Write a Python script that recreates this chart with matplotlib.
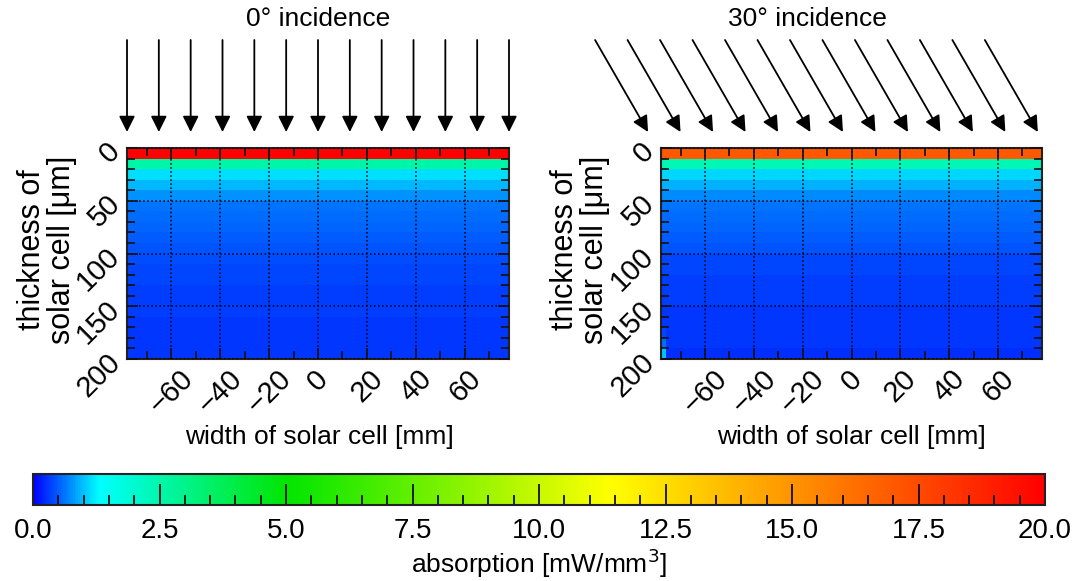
import numpy as np
import matplotlib
matplotlib.use("Agg")
import matplotlib.pyplot as plt
from matplotlib.colors import LinearSegmentedColormap
from matplotlib.ticker import MultipleLocator

plt.rcParams['font.family'] = ['Liberation Sans', 'DejaVu Sans']

# Cell geometry: 156 mm wide, 200 um thick, layers of 10 um
cell_width = 156.0
layer_edges = [0, 10, 20, 30, 40, 50, 60, 70, 80, 90, 100,
               110, 120, 130, 140, 150, 160, 170, 180, 190, 200]
n_cols = 78

# Absorbed power per layer [mW/mm^3], top to bottom
absorption_0deg = [21.0, 2.6, 1.15, 0.95, 0.76, 0.62, 0.57, 0.53, 0.49, 0.46,
                   0.40, 0.38, 0.36, 0.34, 0.33, 0.32, 0.31, 0.30, 0.29, 0.28]
absorption_30deg = [17.0, 2.4, 1.10, 0.92, 0.74, 0.61, 0.56, 0.52, 0.48, 0.45,
                    0.39, 0.37, 0.35, 0.33, 0.32, 0.31, 0.30, 0.29, 0.28, 0.27]
# left edge column of the 30 deg case (rows 170-200 um)
edge_30deg = [0.36, 0.56, 1.0]

# Arrow tips along the top [mm]
arrows_0deg = [-78, -65, -52, -39, -26, -13, 0, 13, 26, 39, 52, 65, 78]
arrows_30deg = [-83.3, -70.0, -56.7, -43.4, -30.1, -16.8, -3.5,
                9.8, 23.1, 36.4, 49.7, 63.0, 76.3]

cbar_ticks = [0.0, 2.5, 5.0, 7.5, 10.0, 12.5, 15.0, 17.5, 20.0]

cmap = LinearSegmentedColormap.from_list('absorb', [
    (0.0, (0.0, 0.0, 1.0)),
    (0.065, (0.0, 1.0, 1.0)),
    (0.25, (0.0, 0.9, 0.0)),
    (0.57, (1.0, 1.0, 0.0)),
    (1.0, (1.0, 0.0, 0.0))], N=512)

x_edges = np.linspace(-cell_width / 2, cell_width / 2, n_cols + 1)

field_0 = np.tile(np.array(absorption_0deg)[:, None], (1, n_cols))
field_30 = np.tile(np.array(absorption_30deg)[:, None], (1, n_cols))
field_30[-len(edge_30deg):, 0] = edge_30deg

fig = plt.figure(figsize=(10.75, 5.81), dpi=100)
W, H = 1075.0, 581.0

def px_axes(x0, x1, y0, y1):
    return fig.add_axes([x0 / W, 1 - y1 / H, (x1 - x0) / W, (y1 - y0) / H])

ax_l = px_axes(127, 509, 148, 359)
ax_r = px_axes(661, 1042, 148, 359)

for ax, field in ((ax_l, field_0), (ax_r, field_30)):
    mesh = ax.pcolormesh(x_edges, layer_edges, field, cmap=cmap, vmin=0, vmax=20)
    ax.set_xlim(-cell_width / 2, cell_width / 2)
    ax.set_ylim(200, 0)
    ax.set_xticks(range(-60, 61, 20))
    ax.xaxis.set_minor_locator(MultipleLocator(10))
    ax.set_yticks(range(0, 201, 50))
    ax.yaxis.set_minor_locator(MultipleLocator(10))
    ax.tick_params(which='both', direction='in', top=True, right=True,
                   width=1.2, color='#111111', labelsize=21)
    ax.tick_params(which='major', length=8)
    ax.tick_params(which='minor', length=6)
    ax.tick_params(axis='x', labelrotation=45, pad=4)
    ax.tick_params(axis='y', labelrotation=45, pad=1)
    ax.set_axisbelow(False)
    ax.grid(which='major', color='k', linestyle=':', linewidth=1.1)
    for s in ax.spines.values():
        s.set_linewidth(1.5)
        s.set_color('#222222')

# incoming light
tip_y = (359 - 132) / 211.0
top_y = (359 - 40) / 211.0
px_per_mm = 382 / cell_width
for x in arrows_0deg:
    ax_l.annotate('', xy=(x, tip_y), xytext=(x, top_y),
                  xycoords=ax_l.get_xaxis_transform(), annotation_clip=False,
                  arrowprops=dict(arrowstyle='-|>', mutation_scale=24, lw=1.3,
                                  color='k', shrinkA=0, shrinkB=0))
dx = np.tan(np.radians(30)) * (132 - 40) / px_per_mm
for x in arrows_30deg:
    ax_r.annotate('', xy=(x, tip_y), xytext=(x - dx, top_y),
                  xycoords=ax_r.get_xaxis_transform(), annotation_clip=False,
                  arrowprops=dict(arrowstyle='-|>', mutation_scale=24, lw=1.3,
                                  color='k', shrinkA=0, shrinkB=0))

fig.text(318 / W, 1 - 19 / H, '0° incidence', ha='center', va='center', fontsize=19)
fig.text(807 / W, 1 - 19 / H, '30° incidence', ha='center', va='center', fontsize=19)

for xc in (319, 851):
    fig.text(xc / W, 1 - 437 / H, 'width of solar cell [mm]', ha='center',
             va='center', fontsize=19)
for xc in (47, 580):
    fig.text(xc / W, 1 - 250 / H, 'thickness of\nsolar cell [μm]', ha='center',
             va='center', rotation=90, fontsize=22, linespacing=1.0)

# colour bar
cax = px_axes(33, 1045, 474, 505)
cb = fig.colorbar(mesh, cax=cax, orientation='horizontal', ticks=cbar_ticks)
cb.ax.xaxis.set_minor_locator(MultipleLocator(0.5))
cb.ax.set_xticklabels(['%.1f' % t for t in cbar_ticks], fontsize=20)
cb.ax.tick_params(which='both', direction='in', color='k', width=1.2)
cb.ax.tick_params(which='major', length=15, pad=9)
cb.ax.tick_params(which='minor', length=7)
cb.outline.set_linewidth(1.5)
cb.outline.set_edgecolor('#222222')
fig.text(539 / W, 1 - 563 / H, 'absorption [mW/mm$^3$]', ha='center',
         va='center', fontsize=19)

fig.savefig('out.png', dpi=100, facecolor='w')
